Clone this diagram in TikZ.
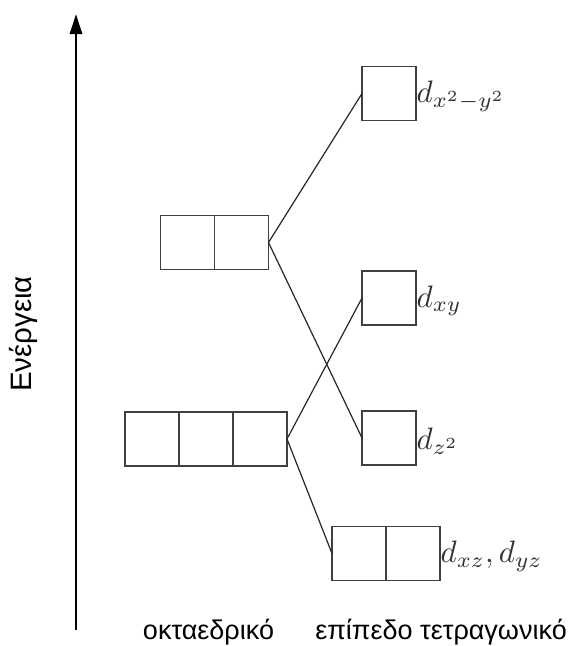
\documentclass[tikz,border=0pt]{standalone}
\usepackage{fontspec}
\setmainfont{Liberation Sans}
\usetikzlibrary{arrows.meta}
\begin{document}
\begin{tikzpicture}[x=1pt,y=-1pt,
  orb/.style={draw=black!75, line width=1.7pt, minimum width=54pt, minimum height=54pt, inner sep=0pt, outer sep=0pt},
  conn/.style={draw=black!85, line width=1.2pt},
  lbl/.style={anchor=west, inner sep=0pt, scale=3.1, text=black!80},
  greek/.style={font=\fontsize{27}{30}\selectfont, inner sep=0pt}]
\useasboundingbox (0,0) rectangle (573,646);

% energy axis
\coordinate (axlo) at (76,630);
\coordinate (axhi) at (76,14);
\draw[line width=2.8pt, -{Triangle[length=20pt,width=12pt]}] (axlo) -- (axhi);
\node[greek, font=\fontsize{29.5}{32}\selectfont, rotate=90] (energy) at (23,334) {Ενέργεια};

% octahedral levels
\node[orb] (eg1) at (187.5,242.5) {};
\node[orb] (eg2) at (241.5,242.5) {};
\node[orb] (t1) at (152,439) {};
\node[orb] (t2) at (206,439) {};
\node[orb] (t3) at (260,439) {};

% square planar levels
\node[orb] (dxx) at (389,93.5) {};
\node[orb] (dxy) at (389,298) {};
\node[orb] (dzz) at (389,438) {};
\node[orb] (dxz) at (359,553.5) {};
\node[orb] (dyz) at (413,553.5) {};

\node[lbl] (ldxx) at ([yshift=-3pt]dxx.east) {$d_{x^2-y^2}$};
\node[lbl] (ldxy) at ([yshift=-3pt]dxy.east) {$d_{xy}$};
\node[lbl] (ldzz) at ([yshift=-3pt]dzz.east) {$d_{z^2}$};
\node[lbl] (ldxz) at ([yshift=-3pt]dyz.east) {$d_{xz}, d_{yz}$};

% correlation lines
\draw[conn] (eg2.east) -- (dxx.west);
\draw[conn] (eg2.east) -- (dzz.west);
\draw[conn] (t3.east) -- (dxy.west);
\draw[conn] (t3.east) -- (dxz.west);

% geometry labels
\node[greek, anchor=base] (oct) at (208.5,639) {οκταεδρικό};
\node[greek, anchor=base] (sqp) at (441,639) {επίπεδο τετραγωνικό};
\end{tikzpicture}
\end{document}
